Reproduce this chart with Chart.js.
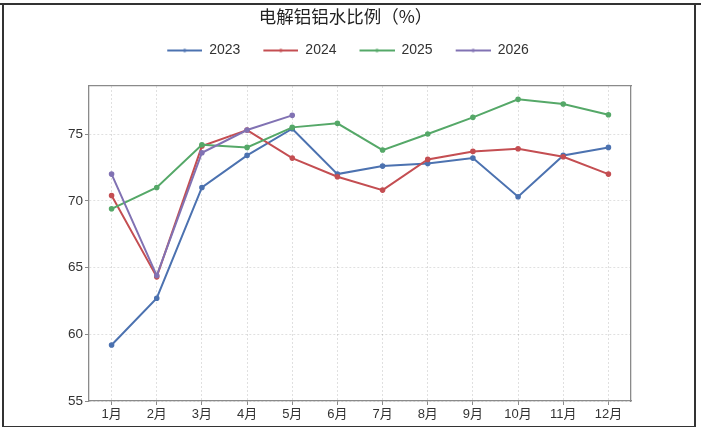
<!DOCTYPE html>
<html>
<head>
<meta charset="utf-8">
<script src="https://cdn.jsdelivr.net/npm/chart.js@4/dist/chart.umd.min.js"></script>
<style>
  html, body { margin: 0; padding: 0; background: #fff; }
  #wrap { position: relative; width: 701px; height: 427px; }
  #frame { position: absolute; left: 2px; top: 3px; width: 690px; height: 421px;
           border: 2px solid #333; pointer-events: none; }
  #topline { position: absolute; left: 0; top: 3px; width: 701px; height: 2px; background: #333; }
</style>
</head>
<body>
<div id="wrap">
  <canvas id="chart" width="701" height="427"></canvas>
  <div id="topline"></div>
  <div id="frame"></div>
</div>
<script>
// months on the x axis
const months = ['1月', '2月', '3月', '4月', '5月', '6月', '7月', '8月', '9月', '10月', '11月', '12月'];

// 电解铝铝水比例 (%)
const y2023 = [59.2, 62.7, 71.0, 73.4, 75.4, 72.0, 72.6, 72.8, 73.2, 70.3, 73.4, 74.0];
const y2024 = [70.4, 64.3, 74.1, 75.3, 73.2, 71.8, 70.8, 73.1, 73.7, 73.9, 73.3, 72.0];
const y2025 = [69.4, 71.0, 74.2, 74.0, 75.5, 75.8, 73.8, 75.0, 76.25, 77.6, 77.25, 76.45];
const y2026 = [72.0, 64.4, 73.6, 75.3, 76.4];

const yTicks = [55, 60, 65, 70, 75];

const colors = {
    '2023': '#4c72b0',
    '2024': '#c44e52',
    '2025': '#55a868',
    '2026': '#8172b3'
};

const latin = '"Liberation Sans", "Noto Sans CJK SC", sans-serif';
const cjk = '"Noto Sans CJK SC", "Liberation Sans", sans-serif';

// legend swatch: short line with a dot in the middle
function swatch(color) {
    const c = document.createElement('canvas');
    c.width = 40;
    c.height = 10;
    const ctx = c.getContext('2d');
    ctx.strokeStyle = color;
    ctx.lineWidth = 2;
    ctx.beginPath();
    ctx.moveTo(5, 5);
    ctx.lineTo(40, 5);
    ctx.stroke();
    ctx.fillStyle = color;
    ctx.beginPath();
    ctx.arc(22.5, 5, 1.8, 0, Math.PI * 2);
    ctx.fill();
    return c;
}

function series(label, data, order) {
    return {
        label,
        data,
        order,
        borderColor: colors[label],
        backgroundColor: colors[label],
        borderWidth: 2,
        pointRadius: 1.8,
        pointHoverRadius: 1.8,
        tension: 0
    };
}

const gridColor = 'rgba(0,0,0,0.12)';
const spineColor = '#8a8a8a';

new Chart(document.getElementById('chart'), {
    type: 'line',
    data: {
        labels: months,
        datasets: [
            series('2023', y2023, 4),
            series('2024', y2024, 3),
            series('2025', y2025, 2),
            series('2026', y2026, 1)
        ]
    },
    options: {
        responsive: false,
        animation: false,
        layout: { padding: { left: 45, right: 55, top: 0, bottom: 0 } },
        plugins: {
            title: {
                display: true,
                text: '电解铝铝水比例（%）',
                color: '#222',
                font: { family: cjk, size: 17.5, weight: 'normal', lineHeight: 1 },
                padding: { top: 8, bottom: 0 }
            },
            legend: {
                display: true,
                labels: {
                    usePointStyle: true,
                    pointStyleWidth: 40,
                    padding: 18,
                    color: '#333',
                    font: { family: latin, size: 14 },
                    sort: (a, b) => a.datasetIndex - b.datasetIndex,
                    generateLabels(chart) {
                        const items = Chart.defaults.plugins.legend.labels.generateLabels(chart);
                        items.forEach(it => { it.pointStyle = swatch(colors[it.text]); });
                        return items;
                    }
                }
            },
            tooltip: { enabled: false }
        },
        scales: {
            x: {
                type: 'category',
                offset: true,
                grid: {
                    color: gridColor,
                    tickColor: spineColor,
                    tickLength: 4,
                    offset: false
                },
                border: { color: spineColor, width: 1.3, dash: [2, 2] },
                ticks: {
                    color: '#333',
                    font: { family: latin, size: 13 },
                    padding: 2,
                    maxRotation: 0,
                    autoSkip: false
                },
                afterFit(scale) { scale.height = 26; }
            },
            x2: {
                type: 'category',
                position: 'top',
                labels: months,
                offset: true,
                grid: { drawOnChartArea: false, drawTicks: false },
                border: { color: spineColor, width: 1.3 },
                ticks: { display: false },
                afterFit(scale) { scale.height = 18.5; }
            },
            y: {
                type: 'linear',
                min: 55,
                max: 78.6,
                grid: {
                    color: gridColor,
                    tickColor: spineColor,
                    tickLength: 4
                },
                border: { color: spineColor, width: 1.3, dash: [2, 2] },
                ticks: {
                    stepSize: 5,
                    includeBounds: false,
                    color: '#333',
                    font: { family: latin, size: 13.5 },
                    padding: 2,
                    callback: (v) => yTicks.includes(v) ? String(v) : ''
                },
                afterFit(scale) { scale.width = 44; }
            },
            y2: {
                type: 'linear',
                position: 'right',
                min: 55,
                max: 78.6,
                grid: { drawOnChartArea: false, drawTicks: false },
                border: { color: spineColor, width: 1.3 },
                ticks: { display: false },
                afterFit(scale) { scale.width = 15; }
            }
        }
    }
});
</script>
</body>
</html>
